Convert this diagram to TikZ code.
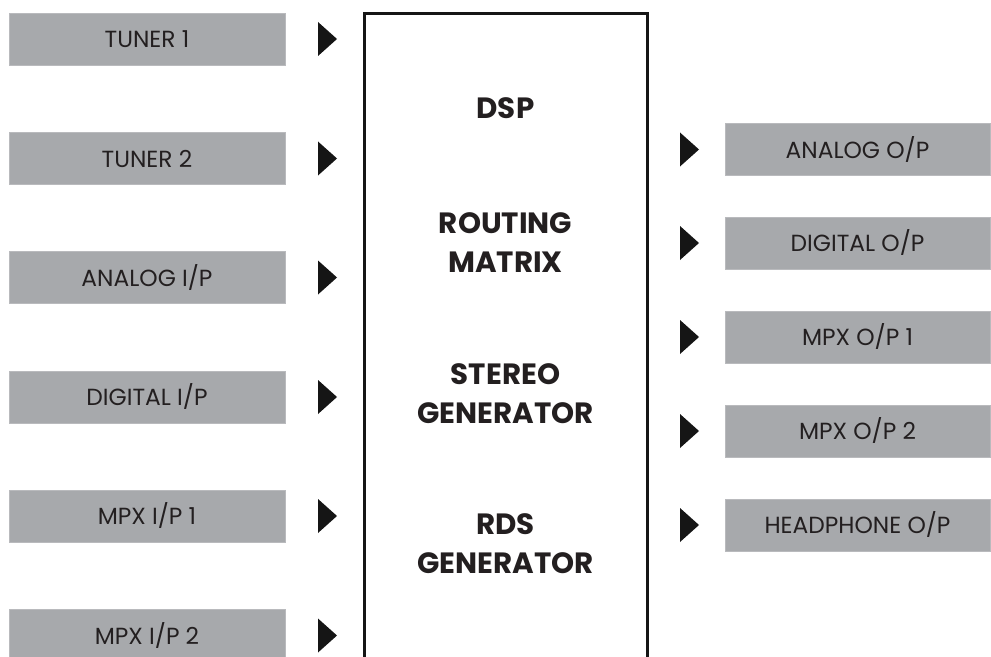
\documentclass[tikz,border=0pt]{standalone}
\usepackage{fontspec}
\setmainfont{Poppins}
\definecolor{boxgray}{HTML}{A7A9AC}
\definecolor{txt}{HTML}{231F20}
\definecolor{tri}{HTML}{151515}
\begin{document}
\begin{tikzpicture}[x=0.75pt,y=-0.75pt,
  iobox/.style={fill=boxgray, draw=boxgray!80!white, line width=0.4pt, minimum height=52*0.75pt, inner sep=0pt, font=\fontsize{17}{20}\selectfont, text=txt},
  inbox/.style={iobox, minimum width=276*0.75pt},
  outbox/.style={iobox, minimum width=265*0.75pt},
  arrowtri/.style={fill=tri, draw=none},
  blocklabel/.style={font=\bfseries\fontsize{22}{29}\selectfont, text=txt, align=center, anchor=base},
  iolabel/.style={font=\fontsize{17.5}{20}\selectfont, text=txt, anchor=base}]
\useasboundingbox (0,0) rectangle (991,656);
% inputs
\foreach \name/\lab/\y in {t1/TUNER 1/39, t2/TUNER 2/158.5, ai/ANALOG I\slash P/277.5, di/DIGITAL I\slash P/397, m1/MPX I\slash P 1/516, m2/MPX I\slash P 2/635.5}{
  \node[inbox] (\name) at (147,\y) {};
  \node[iolabel] at ([yshift=-8.5*0.75pt]\name.center) {\lab};
  \fill[arrowtri] (318,\y-17) -- (337,\y) -- (318,\y+17) -- cycle;
}
% outputs
\foreach \name/\lab/\y in {ao/ANALOG O\slash P/149.5, do/DIGITAL O\slash P/243, o1/MPX O\slash P 1/337, o2/MPX O\slash P 2/431, ho/HEADPHONE O\slash P/525}{
  \node[outbox] (\name) at (857.5,\y) {};
  \node[iolabel] at ([yshift=-8.5*0.75pt]\name.center) {\lab};
  \fill[arrowtri] (680,\y-17) -- (699,\y) -- (680,\y+17) -- cycle;
}
% main block (open at bottom)
\coordinate (bl) at (364.5,660);
\coordinate (tl) at (364.5,13.5);
\coordinate (tr) at (647.5,13.5);
\coordinate (br) at (647.5,660);
\draw[line width=1.6pt, color=tri] (bl) -- (tl) -- (tr) -- (br);
\node[blocklabel] (dsp) at (505.5,119) {DSP};
\node[blocklabel] (rm) at (505.5,272) {ROUTING\\MATRIX};
\node[blocklabel] (sg) at (505.5,423) {STEREO\\GENERATOR};
\node[blocklabel] (rds) at (505.5,573) {RDS\\GENERATOR};
\end{tikzpicture}
\end{document}
